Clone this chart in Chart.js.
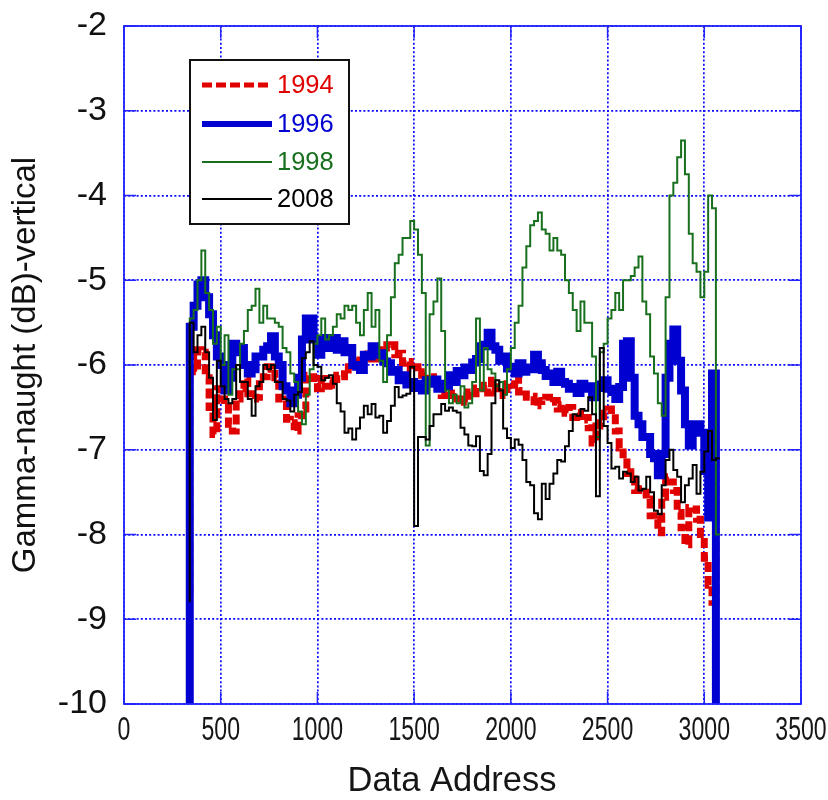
<!DOCTYPE html>
<html>
<head>
<meta charset="utf-8">
<script src="https://cdn.jsdelivr.net/npm/chart.js@4.4.0/dist/chart.umd.min.js"></script>
<style>
  html, body { margin: 0; padding: 0; background: #fff; }
  #wrap { width: 828px; height: 800px; }
</style>
</head>
<body>
<div id="wrap"><canvas id="chart" width="828" height="800"></canvas></div>
<script>
// data address of the first sample and spacing between samples
const addrStart = 340;
const addrStep = 20;

const xTicks = [0, 500, 1000, 1500, 2000, 2500, 3000, 3500];
const yTicks = [-2, -3, -4, -5, -6, -7, -8, -9, -10];

// gamma-naught (dB), every 20 addresses (340 .. 3080)
const gamma1994 = [
  -8.7, -5.88, -6.08, -5.82, -5.85, -6.15, -6.5, -6.82, -6.28, -6.4,
  -6.42, -6.7, -6.78, -6.4, -6.28, -6.16, -6.34, -6.4, -6.38, -6.18,
  -6.14, -6.02, -6.05, -6.15, -6.4, -6.42, -6.64, -6.68, -6.78, -6.6,
  -6.52, -6.12, -6.14, -6.16, -6.28, -6.16, -6.25, -6.18, -6.24, -6.12,
  -6.14, -6.02, -6.06, -5.96, -5.98, -5.94, -5.96, -5.87, -5.93, -5.83,
  -5.82, -5.76, -5.8, -5.76, -5.88, -5.86, -5.98, -5.96, -6.05, -6.02,
  -6.12, -6.08, -6.18, -6.14, -6.24, -6.27, -6.36, -6.32, -6.36, -6.33,
  -6.4, -6.36, -6.44, -6.32, -6.34, -6.27, -6.28, -6.24, -6.33, -6.18,
  -6.28, -6.27, -6.36, -6.22, -6.24, -6.14, -6.32, -6.3, -6.38, -6.37,
  -6.48, -6.43, -6.42, -6.38, -6.44, -6.42, -6.52, -6.47, -6.57, -6.5,
  -6.62, -6.56, -6.65, -6.62, -6.74, -6.92, -6.72, -6.68, -6.57, -6.52,
  -6.58, -6.78, -6.98, -7.06, -7.28, -7.26, -7.48, -7.46, -7.5, -7.58,
  -7.78, -7.82, -7.98, -7.56, -7.32, -7.38, -7.48, -7.74, -7.92, -8.12,
  -7.68, -7.7, -7.82, -8.0, -8.28, -8.6, -8.8, -6.8
];
const gamma1996 = [
  -10.3, -5.55, -5.3, -5.05, -5.0, -5.2, -5.4, -5.65, -5.9, -6.0,
  -6.3, -6.15, -5.75, -5.85, -5.8, -6.0, -6.1, -6.05, -5.9, -5.9,
  -5.82, -5.78, -5.66, -5.9, -6.0, -6.25, -6.3, -6.45, -6.35, -6.15,
  -5.7, -5.45, -5.45, -5.7, -5.88, -5.76, -5.68, -5.8, -5.68, -5.82,
  -5.72, -5.85, -5.8, -6.0, -6.02, -6.06, -5.88, -5.9, -5.78, -5.88,
  -5.86, -5.96, -5.98, -6.08, -6.06, -6.18, -6.12, -6.23, -6.2, -6.27,
  -6.22, -6.3, -6.18, -6.22, -6.17, -6.28, -6.22, -6.25, -6.12, -6.2,
  -6.07, -6.12, -6.03, -6.06, -5.97, -5.93, -5.78, -5.76, -5.62, -5.78,
  -5.82, -5.95, -5.9, -6.04, -6.02, -6.1, -5.98, -6.08, -6.03, -6.05,
  -5.88, -5.98, -6.06, -6.13, -6.1, -6.2, -6.08, -6.2, -6.22, -6.28,
  -6.26, -6.33, -6.22, -6.28, -6.25, -6.38, -6.27, -6.23, -6.18, -6.28,
  -6.32, -6.4, -6.26, -5.75, -5.72, -6.15, -6.6, -6.7, -6.85, -6.85,
  -7.05, -7.1, -7.3, -7.05, -6.15, -5.75, -5.58, -5.95, -6.3, -6.7,
  -6.95, -6.7, -6.7, -6.8, -7.25, -7.8, -6.1, -10.3
];
const gamma1998 = [
  -6.3, -5.45, -5.35, -5.0, -4.65, -5.15, -5.35, -5.75, -5.55, -6.0,
  -5.65, -6.35, -6.05, -6.05, -5.75, -5.6, -5.35, -5.3, -5.1, -5.5,
  -5.3, -5.45, -5.45, -5.5, -5.55, -5.8, -5.85, -6.1, -6.2, -6.55,
  -6.7, -6.35, -6.05, -5.75, -5.65, -5.45, -5.7, -5.65, -5.55, -5.4,
  -5.45, -5.3, -5.35, -5.3, -5.5, -5.65, -5.35, -5.15, -5.55, -5.35,
  -5.95, -6.2, -5.65, -5.2, -4.8, -4.7, -4.5, -4.5, -4.3, -4.4,
  -4.7, -5.15, -6.95, -5.4, -5.25, -4.98, -5.6, -6.3, -6.45, -6.35,
  -6.45, -6.25, -6.5, -6.45, -6.2, -5.45, -6.3, -5.8, -6.05, -6.1,
  -6.25, -6.2, -6.35, -6.05, -5.8, -5.5, -5.3, -4.85, -4.6, -4.35,
  -4.3, -4.2, -4.4, -4.45, -4.65, -4.5, -4.65, -4.7, -5.0, -5.15,
  -5.35, -5.6, -5.25, -5.5, -5.5, -5.9, -6.85, -5.85, -5.75, -5.45,
  -5.35, -5.15, -5.35, -5.0, -5.0, -4.95, -4.85, -4.72, -5.25, -5.4,
  -5.9, -6.1, -6.45, -6.6, -5.2, -4.0, -3.85, -3.55, -3.35, -3.75,
  -4.45, -4.8, -4.9, -5.2, -4.9, -4.0, -4.15, -8.0
];
const gamma2008 = [
  -8.8, -5.5, -5.85, -5.65, -5.55, -5.85, -6.15, -6.65, -5.95, -6.25,
  -6.4, -6.45, -6.4, -6.0, -6.2, -6.2, -6.4, -6.6, -6.25, -6.2,
  -6.0, -6.05, -6.0, -6.2, -6.2, -6.4, -6.42, -6.55, -6.35, -6.32,
  -5.92, -5.85, -5.72, -6.0, -6.02, -6.18, -6.15, -6.12, -6.22, -6.45,
  -6.55, -6.8, -6.75, -6.88, -6.75, -6.62, -6.48, -6.58, -6.46, -6.62,
  -6.6, -6.8, -6.66, -6.48, -6.26, -6.38, -6.36, -6.34, -6.02, -7.9,
  -6.85, -6.85, -6.88, -6.72, -6.58, -6.58, -6.46, -6.54, -6.5, -6.54,
  -6.56, -6.74, -6.82, -6.95, -6.96, -6.84, -7.25, -7.3, -7.05, -6.45,
  -6.18, -6.3, -6.75, -6.86, -6.98, -6.88, -6.94, -7.12, -7.38, -7.42,
  -7.75, -7.82, -7.4, -7.58, -7.4, -7.28, -7.12, -7.14, -6.96, -6.78,
  -6.58, -6.6, -6.52, -6.54, -6.38, -6.58, -7.55, -5.8, -6.72, -6.92,
  -7.22, -7.2, -7.34, -7.26, -7.28, -7.38, -7.32, -7.48, -7.46, -7.32,
  -7.5, -7.72, -7.76, -7.42, -7.12, -7.0, -7.24, -7.32, -7.62, -7.42,
  -7.34, -7.18, -7.52, -7.26, -7.02, -6.78, -7.12, -7.1
];

const toPoints = (vals) => vals.map((v, i) => ({ x: addrStart + i * addrStep, y: v }));

const axisBlue = '#2323ff';
const gridBlue = '#0a0aff';
const fontFamily = '"Liberation Sans", Arial, sans-serif';

// inward tick marks, box border, squeezed x labels, x title and the boxed legend
const framePlugin = {
  id: 'frame',
  beforeDatasetsDraw(chart) {
    const { ctx, chartArea: a, scales: { x, y } } = chart;
    ctx.save();
    ctx.strokeStyle = axisBlue;
    ctx.lineWidth = 1.5;
    ctx.beginPath();
    xTicks.forEach(v => {
      const px = x.getPixelForValue(v);
      ctx.moveTo(px, a.bottom); ctx.lineTo(px, a.bottom - 12);
      ctx.moveTo(px, a.top); ctx.lineTo(px, a.top + 12);
    });
    yTicks.forEach(v => {
      const py = y.getPixelForValue(v);
      ctx.moveTo(a.left, py); ctx.lineTo(a.left + 12, py);
      ctx.moveTo(a.right, py); ctx.lineTo(a.right - 12, py);
    });
    ctx.stroke();
    ctx.restore();
  },
  afterDraw(chart) {
    const { ctx, chartArea: a, scales: { x } } = chart;
    ctx.save();
    ctx.strokeStyle = axisBlue;
    ctx.lineWidth = 1.8;
    ctx.strokeRect(a.left, a.top, a.right - a.left, a.bottom - a.top);

    // x tick labels (narrow face in the original)
    ctx.fillStyle = '#161616';
    ctx.font = '34px ' + fontFamily;
    ctx.textAlign = 'center';
    ctx.textBaseline = 'middle';
    xTicks.forEach(v => {
      ctx.save();
      ctx.translate(x.getPixelForValue(v), a.bottom + 27);
      ctx.scale(0.68, 1);
      ctx.fillText(String(v), 0, 0);
      ctx.restore();
    });

    // x axis title, sits a little left of the plot centre in the original
    ctx.font = '34.5px ' + fontFamily;
    ctx.fillText('Data Address', 452, 781);

    // legend box
    const box = { left: 190, top: 60, width: 159, height: 164 };
    ctx.fillStyle = '#fff';
    ctx.fillRect(box.left, box.top, box.width, box.height);
    ctx.strokeStyle = '#111';
    ctx.lineWidth = 2;
    ctx.strokeRect(box.left, box.top, box.width, box.height);
    const rows = [85, 124, 162, 199];
    ctx.font = '25.5px ' + fontFamily;
    ctx.textAlign = 'left';
    chart.data.datasets.forEach((ds, i) => {
      const yy = rows[i];
      ctx.beginPath();
      ctx.strokeStyle = ds.borderColor;
      ctx.lineWidth = ds.legendWidth;
      ctx.setLineDash(ds.borderDash || []);
      ctx.moveTo(202, yy);
      ctx.lineTo(272, yy);
      ctx.stroke();
      ctx.setLineDash([]);
      ctx.fillStyle = ds.borderColor;
      ctx.fillText(ds.label, 277, yy + 1);
    });
    ctx.restore();
  }
};

new Chart(document.getElementById('chart'), {
  type: 'line',
  data: {
    datasets: [
      { label: '1994', data: toPoints(gamma1994), borderColor: '#e00000', borderWidth: 7,
        borderDash: [10, 4], legendWidth: 5, order: 4 },
      { label: '1996', data: toPoints(gamma1996), borderColor: '#0000d0', borderWidth: 8,
        legendWidth: 6, order: 3 },
      { label: '1998', data: toPoints(gamma1998), borderColor: '#18701e', borderWidth: 2,
        legendWidth: 1.8, order: 2 },
      { label: '2008', data: toPoints(gamma2008), borderColor: '#000000', borderWidth: 2,
        legendWidth: 2, order: 1 }
    ]
  },
  options: {
    responsive: false,
    animation: false,
    elements: {
      point: { radius: 0 },
      line: { stepped: 'after', tension: 0, borderJoinStyle: 'miter', borderCapStyle: 'butt' }
    },
    layout: { padding: { left: 0, top: 26, right: 27, bottom: 0 } },
    plugins: {
      legend: { display: false },
      tooltip: { enabled: false }
    },
    scales: {
      x: {
        type: 'linear',
        min: 0,
        max: 3500,
        afterFit: (s) => { s.height = 96; s.paddingLeft = 0; s.paddingRight = 0; },
        ticks: { display: false, stepSize: 500 },
        grid: { color: gridBlue, lineWidth: 1.7, drawTicks: false, borderDash: [2, 2.2] },
        border: { display: false, dash: [2, 2.2] },
        title: { display: false }
      },
      y: {
        min: -10,
        max: -2,
        afterFit: (s) => { s.width = 124; s.paddingTop = 0; s.paddingBottom = 0; },
        ticks: {
          stepSize: 1,
          color: '#111',
          padding: 17,
          font: { family: fontFamily, size: 34 }
        },
        grid: { color: gridBlue, lineWidth: 1.7, drawTicks: false, borderDash: [2, 2.2] },
        border: { display: false, dash: [2, 2.2] },
        title: {
          display: true,
          text: 'Gamma-naught (dB)-vertical',
          color: '#111',
          font: { family: fontFamily, size: 33 },
          padding: { top: 6, bottom: 0 }
        }
      }
    }
  },
  plugins: [framePlugin]
});
</script>
</body>
</html>
